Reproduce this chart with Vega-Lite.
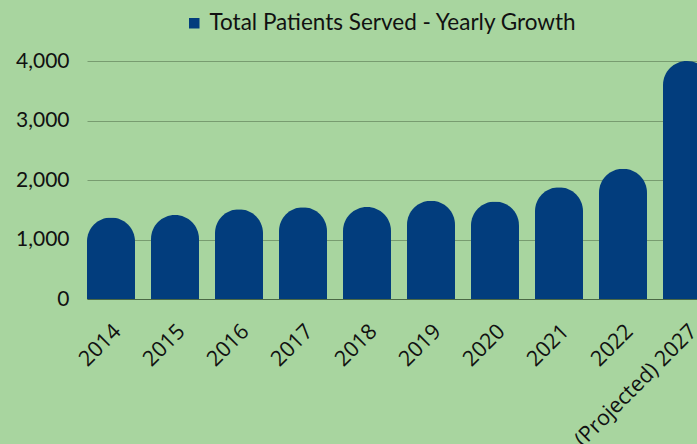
{
  "$schema": "https://vega.github.io/schema/vega-lite/v6.json",
  "autosize": {"type": "none"},
  "padding": {"left": 87, "top": 61, "right": 0, "bottom": 145},
  "width": 624,
  "height": 238,
  "background": "#a8d59f",
  "config": {"view": {"stroke": null}},
  "data": {"values": [
    {"year": "2014", "patients": 1370, "series": "Total Patients Served - Yearly Growth"},
    {"year": "2015", "patients": 1410, "series": "Total Patients Served - Yearly Growth"},
    {"year": "2016", "patients": 1510, "series": "Total Patients Served - Yearly Growth"},
    {"year": "2017", "patients": 1540, "series": "Total Patients Served - Yearly Growth"},
    {"year": "2018", "patients": 1545, "series": "Total Patients Served - Yearly Growth"},
    {"year": "2019", "patients": 1650, "series": "Total Patients Served - Yearly Growth"},
    {"year": "2020", "patients": 1640, "series": "Total Patients Served - Yearly Growth"},
    {"year": "2021", "patients": 1880, "series": "Total Patients Served - Yearly Growth"},
    {"year": "2022", "patients": 2190, "series": "Total Patients Served - Yearly Growth"},
    {"year": "(Projected) 2027", "patients": 4000, "series": "Total Patients Served - Yearly Growth"}
  ]},
  "mark": {"type": "bar", "cornerRadiusTopLeft": 24, "cornerRadiusTopRight": 24},
  "encoding": {
    "x": {
      "field": "year", "type": "nominal", "sort": null,
      "scale": {"paddingInner": 0.25, "paddingOuter": 0},
      "axis": {
        "title": null, "labelAngle": -45, "labelAlign": "right", "labelBaseline": "middle",
        "labelFont": "Open Sans", "labelFontSize": 21.5, "labelColor": "#111111",
        "labelPadding": 29, "labelOffset": 7, "ticks": false,
        "domainColor": "#4a6845", "domainWidth": 1, "labelOverlap": false, "labelLimit": 300
      }
    },
    "y": {
      "field": "patients", "type": "quantitative",
      "scale": {"domain": [0, 4000]},
      "axis": {
        "title": null, "values": [0, 1000, 2000, 3000, 4000], "format": ",.0f",
        "labelFont": "Lato", "labelFontSize": 21, "labelColor": "#111111",
        "labelPadding": 18, "ticks": false, "domain": false,
        "gridColor": "#789c70", "gridWidth": 1
      }
    },
    "color": {
      "field": "series", "type": "nominal",
      "scale": {"range": ["#023d7d"]},
      "legend": {
        "title": null, "orient": "none", "legendX": 96, "legendY": -49,
        "symbolType": "square", "symbolSize": 110, "symbolStrokeWidth": 0,
        "labelFont": "Lato", "labelFontSize": 22.5, "labelColor": "#111111", "labelLimit": 500
      }
    }
  }
}
